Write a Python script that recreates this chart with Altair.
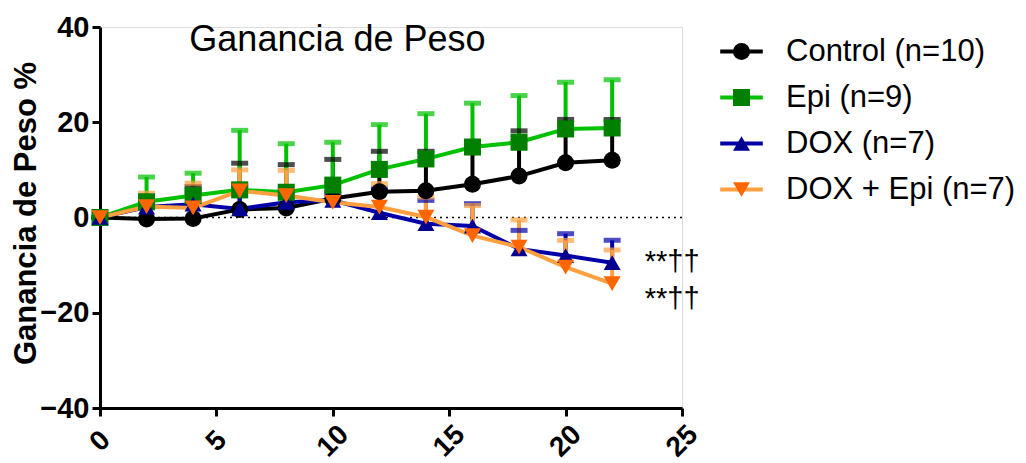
import altair as alt
import pandas as pd

days = [0, 2, 4, 6, 8, 10, 12, 14, 16, 18, 20, 22]
series_names = ["Control (n=10)", "Epi (n=9)", "DOX (n=7)", "DOX + Epi (n=7)"]

control_mean = [0, -0.3, -0.2, 1.7, 2.0, 4.0, 5.4, 5.6, 7.0, 8.7, 11.5, 12.0]
control_upper = [0, 2.5, 6.5, 11.4, 11.1, 12.2, 13.9, 13.9, 14.5, 18.2, 20.6, 20.6]
epi_mean = [0, 3.3, 4.6, 5.8, 5.3, 6.8, 10.1, 12.3, 14.8, 15.8, 18.6, 18.8]
epi_upper = [0, 8.5, 9.3, 18.3, 15.5, 15.8, 19.5, 21.8, 24.0, 25.6, 28.4, 28.9]
dox_mean = [0, 2.2, 2.8, 1.8, 3.2, 3.6, 1.0, -1.3, -1.8, -6.6, -8.0, -9.5]
dox_upper = [0, 3.5, 5.4, 6.7, 5.5, 5.0, 6.0, 3.6, 2.9, -2.7, -3.4, -4.8]
doxepi_mean = [0, 2.3, 2.0, 5.6, 4.6, 3.2, 2.2, 0.1, -3.8, -6.2, -10.4, -13.9]
doxepi_upper = [0, 5.1, 7.2, 10.0, 9.9, 7.4, 7.1, 4.3, 2.5, -0.5, -4.8, -6.8]

line_colors = ["#000000", "#00c000", "#0000a8", "#ffa040"]
marker_colors = ["#000000", "#007f00", "#000090", "#ff6600"]
shapes = ["circle", "square", "triangle-up", "triangle-down"]

x_ticks = [0, 5, 10, 15, 20, 25]
y_ticks = [-40, -20, 0, 20, 40]

chart_title = ["Ganancia de Peso"]
y_title = "Ganancia de Peso %"

annot_x = [23.4, 23.4]
annot_y = [-9.4, -17.2]
annot_text = ["**††", "**††"]

FONT = "Liberation Sans"

rows = []
for name, m, u in zip(series_names,
                      [control_mean, epi_mean, dox_mean, doxepi_mean],
                      [control_upper, epi_upper, dox_upper, doxepi_upper]):
    for d, mv, uv in zip(days, m, u):
        rows.append({"dia": d, "valor": mv, "sup": uv, "grupo": name, "grupo_m": name})
df = pd.DataFrame(rows)
annot_df = pd.DataFrame({"x": annot_x, "y": annot_y, "t": annot_text})
title_df = pd.DataFrame({"t": chart_title})

x_enc = alt.X("dia:Q", scale=alt.Scale(domain=[0, 25], nice=False),
              axis=alt.Axis(values=x_ticks, title=None, grid=False, labelAngle=315,
                            labelAlign="center", labelBaseline="middle", labelPadding=25,
                            labelFontSize=28, labelFontWeight="bold", labelFont=FONT,
                            labelColor="black", tickSize=8, tickWidth=3, tickColor="black",
                            domainWidth=3, domainColor="black", format="d"))
y_enc = alt.Y("valor:Q", scale=alt.Scale(domain=[-40, 40], nice=False),
              axis=alt.Axis(values=y_ticks, title=y_title, grid=False,
                            labelFontSize=29, labelFontWeight="bold", labelFont=FONT,
                            labelColor="black", labelPadding=3, tickSize=8, tickWidth=3,
                            tickColor="black", domainWidth=3, domainColor="black",
                            titleFont=FONT, titleFontSize=31, titleFontWeight="bold",
                            titleColor="black", titleX=-74, titleY=186, titleAngle=270,
                            titleAlign="center", titleBaseline="middle"))

err_color = alt.Color("grupo:N", sort=series_names,
                      scale=alt.Scale(range=line_colors), legend=None)

zero_line = alt.Chart(title_df).mark_rule(color="black", strokeDash=[2, 4],
                                          strokeWidth=1.5).encode(y=alt.datum(0))

err_rules = alt.Chart(df).mark_rule(strokeWidth=4).encode(
    x=x_enc, y=y_enc, y2="sup:Q", color=err_color)

err_caps = alt.Chart(df).mark_tick(orient="horizontal", size=17, thickness=5).encode(
    x=x_enc, y=alt.Y("sup:Q"), color=err_color)

SYM = 290
legend_lines = alt.Legend(title=None, orient="none", legendX=626, legendY=9,
                          symbolType="M-2.5,0H2.5", symbolSize=SYM, symbolStrokeWidth=4,
                          labelFontSize=31, labelFont=FONT, labelColor="black",
                          labelLimit=500, labelOffset=29, rowPadding=14, padding=0)

legend_marks = alt.Legend(title=None, orient="none", legendX=626, legendY=9,
                          symbolSize=SYM, symbolStrokeWidth=0, symbolOpacity=1,
                          labelFontSize=31, labelFont=FONT, labelOpacity=0,
                          labelLimit=500, labelOffset=29, rowPadding=14, padding=0)

lines = alt.Chart(df).mark_line(strokeWidth=4).encode(
    x=x_enc, y=y_enc,
    stroke=alt.Stroke("grupo:N", sort=series_names, scale=alt.Scale(range=line_colors),
                      legend=legend_lines))

points = alt.Chart(df).mark_point(filled=True, size=SYM, opacity=1, strokeWidth=0).encode(
    x=x_enc, y=y_enc,
    fill=alt.Fill("grupo_m:N", scale=alt.Scale(domain=series_names, range=marker_colors),
                  legend=legend_marks),
    shape=alt.Shape("grupo_m:N", scale=alt.Scale(domain=series_names, range=shapes),
                    legend=legend_marks))

annots = alt.Chart(annot_df).mark_text(align="left", baseline="middle", fontSize=29,
                                       font=FONT, color="black").encode(
    x=alt.X("x:Q"), y=alt.Y("y:Q"), text="t:N")

title_mark = alt.Chart(title_df).mark_text(align="center", baseline="alphabetic",
                                           fontSize=36, font=FONT, color="black").encode(
    x=alt.datum(10.2), y=alt.datum(35.0), text="t:N")

chart = alt.layer(zero_line, err_rules, err_caps, lines, points, annots, title_mark).properties(
    width=582, height=381,
    autosize=alt.AutoSizeParams(type="none"),
    padding={"left": 92, "top": 19, "right": 336, "bottom": 53},
).configure_view(strokeWidth=0).configure(font=FONT)

chart.save("out.html", embed_options={"renderer": "svg", "actions": False})
